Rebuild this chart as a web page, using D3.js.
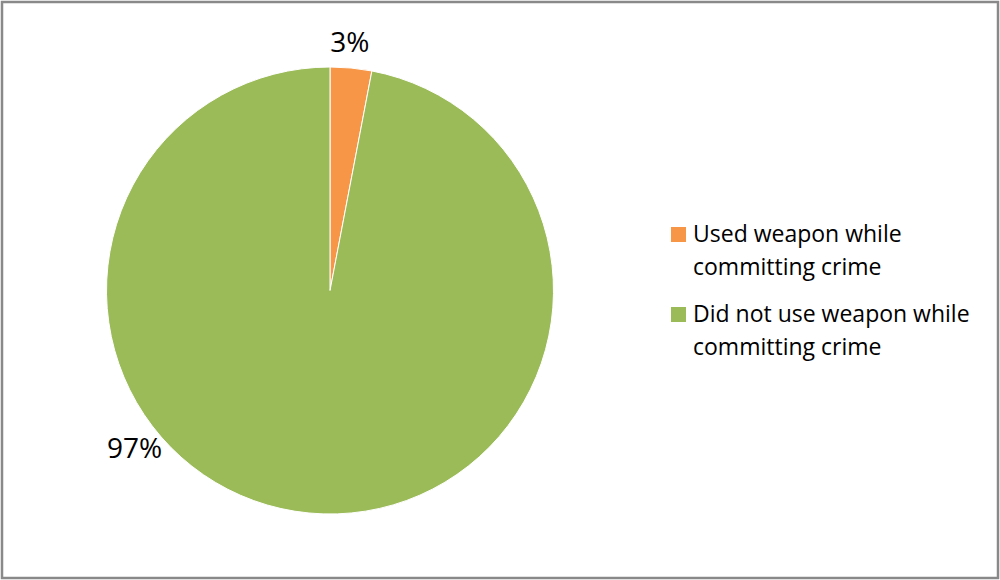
<!DOCTYPE html>
<html>
<head>
<meta charset="utf-8">
<script src="https://cdn.jsdelivr.net/npm/d3@7/dist/d3.min.js"></script>
<style>
  html, body { margin: 0; padding: 0; background: #fff; }
  svg { display: block; }
  text { font-family: "Open Sans", "Noto Sans", sans-serif; fill: #000; }
</style>
</head>
<body>
<svg id="chart" width="1000" height="580"></svg>
<script>
// Share of offenders by weapon use
const categories = ["Used weapon while committing crime", "Did not use weapon while committing crime"];
const legendLines = [["Used weapon while", "committing crime"], ["Did not use weapon while", "committing crime"]];
const values = [3, 97];
const sliceLabels = ["3%", "97%"];
const colors = ["#F79646", "#9BBB59"];

const svg = d3.select("#chart");
const W = 1000, H = 580;

// outer frame
svg.append("rect")
  .attr("x", 2).attr("y", 2)
  .attr("width", W - 4).attr("height", H - 4)
  .attr("fill", "#fff")
  .attr("stroke", "#898989").attr("stroke-width", 2.5);

const cx = 330, cy = 290.5, r = 223.5;

const pie = d3.pie().sort(null).value(d => d)(values);
const arc = d3.arc().innerRadius(0).outerRadius(r);

const g = svg.append("g").attr("transform", `translate(${cx},${cy})`);

g.selectAll("path.slice")
  .data(pie)
  .join("path")
  .attr("class", "slice")
  .attr("d", arc)
  .attr("fill", (d, i) => colors[i])
  .attr("stroke", "#fff")
  .attr("stroke-width", 1);

// percentage labels outside the rim; the large slice's label is
// pulled round to the lower-left so it sits clear of the legend
const labelR = r + 27;
function labelAngle(d) {
  const mid = (d.startAngle + d.endAngle) / 2;
  return (d.endAngle - d.startAngle) > Math.PI ? mid + 0.8 : mid - 0.015;
}
g.selectAll("text.pct")
  .data(pie)
  .join("text")
  .attr("class", "pct")
  .attr("x", d => labelR * Math.sin(labelAngle(d)))
  .attr("y", d => -labelR * Math.cos(labelAngle(d)))
  .attr("text-anchor", "middle")
  .attr("dominant-baseline", "central")
  .style("font-size", "28px")
  .text((d, i) => sliceLabels[i]);

// legend
const legend = svg.append("g").attr("transform", "translate(671,0)");
const legendBase = [242, 322];
const lineGap = 33;
categories.forEach((c, i) => {
  const item = legend.append("g").attr("class", "legend-item");
  item.append("rect")
    .attr("x", 0).attr("y", legendBase[i] - 15)
    .attr("width", 15).attr("height", 15)
    .attr("fill", colors[i]);
  legendLines[i].forEach((line, j) => {
    item.append("text")
      .attr("x", 22)
      .attr("y", legendBase[i] + j * lineGap)
      .style("font-size", "23px")
      .text(line);
  });
});
</script>
</body>
</html>
